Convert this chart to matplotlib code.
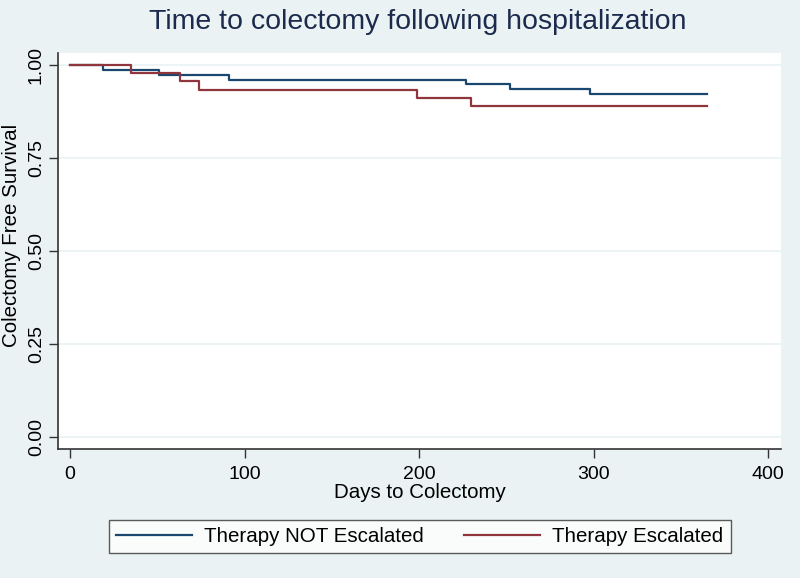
import matplotlib
matplotlib.use('Agg')
import matplotlib.pyplot as plt

# Kaplan-Meier step data
days_not = [0, 19, 51, 91, 227, 252, 298, 365]
surv_not = [1.0, 0.987, 0.973, 0.960, 0.948, 0.935, 0.922, 0.922]
days_esc = [0, 35, 63, 74, 199, 230, 365]
surv_esc = [1.0, 0.978, 0.956, 0.933, 0.911, 0.889, 0.889]
labels = ['Therapy NOT Escalated', 'Therapy Escalated']
xticks = [0, 100, 200, 300, 400]
yticks = [0.0, 0.25, 0.5, 0.75, 1.0]

plt.rcParams['font.family'] = ['Liberation Sans', 'DejaVu Sans']

bg = '#eaf2f3'
axc = '#333333'
fig = plt.figure(figsize=(8, 5.78), dpi=100, facecolor=bg)
ax = fig.add_axes([58/800, 1-449/578, 723/800, 396/578])
ax.set_facecolor('white')

ax.step(days_not, surv_not, where='post', color='#1a476f', lw=1.6, label=labels[0])
ax.step(days_esc, surv_esc, where='post', color='#90353b', lw=1.6, label=labels[1])

ax.set_xlim(-6.9, 407.4)
ax.set_ylim(-0.032, 1.032)
ax.set_xticks(xticks)
ax.set_yticks(yticks)
ax.set_yticklabels(['%.2f' % v for v in yticks], rotation=90, va='center')
ax.grid(axis='y', color=bg, lw=1.2)
ax.set_axisbelow(True)
for s in ['top', 'right']:
    ax.spines[s].set_visible(False)
for s in ['left', 'bottom']:
    ax.spines[s].set_color(axc)
    ax.spines[s].set_linewidth(1.2)
ax.tick_params(colors='black', labelsize=14, length=6.5, width=1.0)
ax.tick_params(axis='x', color=axc, pad=6)
ax.tick_params(axis='y', color=axc, pad=3)

ax.set_xlabel('Days to Colectomy', fontsize=14.8, labelpad=0)
ax.set_ylabel('Colectomy Free Survival', fontsize=14.8)
ax.yaxis.set_label_coords((12 - 58) / 723, (449 - 235) / 396)
ax.yaxis.label.set_va('center')
fig.text(418/800, 1-22/578, 'Time to colectomy following hospitalization',
         ha='center', va='center', fontsize=20.5, color='#1c2b4d')

leg = fig.legend(loc='lower left', ncol=2, mode='expand',
                 bbox_to_anchor=(108.7/800, 1-553/578, 622/800, 37/578),
                 fontsize=14.8, frameon=True, fancybox=False,
                 handlelength=3.7, handletextpad=0.6, borderaxespad=0,
                 borderpad=0.35, columnspacing=1.6)
leg.get_frame().set_edgecolor(axc)
leg.get_frame().set_linewidth(1.0)

plt.savefig('out.png', dpi=100, facecolor=bg)
